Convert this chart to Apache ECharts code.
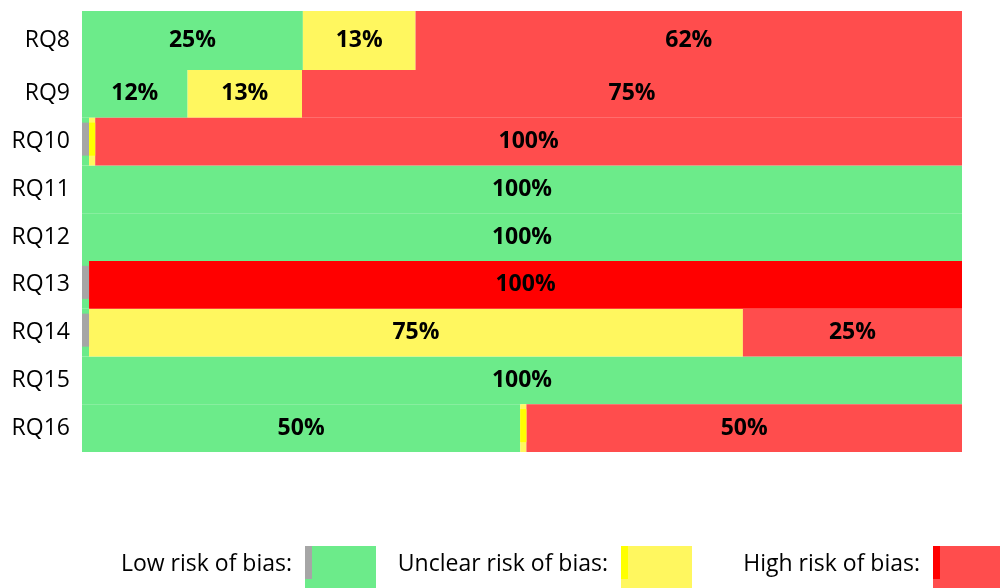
<!DOCTYPE html>
<html><head><meta charset="utf-8">
<script src="https://cdn.jsdelivr.net/npm/echarts@6/dist/echarts.min.js"></script>
<style>html,body{margin:0;padding:0;background:#fff}#c{width:1000px;height:588px}</style>
</head><body><div id="c"></div>
<script>
var categories = ['RQ8','RQ9','RQ10','RQ11','RQ12','RQ13','RQ14','RQ15','RQ16'];
// base stacked segments (percent of axis)
var lowVals       = [25.1, 12.0, 0.8, 100, 100, 0.8, 0.8, 100, 49.8];
var unclearVals   = [12.8, 13.0, 0.7, 0, 0, 0, 74.3, 0, 0.7];
var highSolidVals = [0, 0, 0, 0, 0, 99.2, 0, 0, 0];
var highVals      = [62.1, 75.0, 98.5, 0, 0, 0, 24.9, 0, 49.5];
// label texts
var lowLabels       = ['25%','12%','','100%','100%','','','100%','50%'];
var unclearLabels   = ['13%','13%','','','','','75%','',''];
var highSolidLabels = ['','','','','','100%','','',''];
var highLabels      = ['62%','75%','100%','','','','25%','','50%'];
// marker overlay segments
var markerSpacer = [0, 0, 0, 0, 0, 0, 0, 0, 49.8];
var markerGrey   = [0, 0, 0.8, 0, 0, 0.8, 0.8, 0, 0];
var markerYellow = [0, 0, 0.7, 0, 0, 0, 0, 0, 0.7];
// legend
var legendNames = ['Low risk of bias:', 'Unclear risk of bias:', 'High risk of bias:'];

var C = {low:'#6CEB8A', unclear:'#FFF75F', high:'#FF4D4D', highSolid:'#FF0000', grey:'#A6A6A6', yellowSolid:'#FFFF00'};
var FONT = '"Open Sans", sans-serif';

// grid 0: first row (taller), grid 1: remaining rows, grid 2: marker overlay for remaining rows
function part(arr, g) { return g === 0 ? arr.slice(0, 1) : arr.slice(1); }

var series = [];
function seg(name, vals, labels, color) {
  [0, 1].forEach(function (g) {
    var v = part(vals, g), l = part(labels, g);
    series.push({
      name: name, type: 'bar', stack: 'a' + g, xAxisIndex: g, yAxisIndex: g,
      barWidth: '100%', barCategoryGap: 0,
      itemStyle: {color: color},
      data: v.map(function (x, i) {
        return {value: x, label: {show: !!l[i], formatter: l[i]}};
      }),
      label: {position: 'inside', color: '#000', fontWeight: 'bold', fontSize: 23, fontFamily: FONT},
      silent: true, animation: false
    });
  });
}
function mark(name, vals, color) {
  series.push({
    name: name, type: 'bar', stack: 'm', xAxisIndex: 2, yAxisIndex: 2,
    barWidth: 33, itemStyle: {color: color},
    data: part(vals, 1), silent: true, animation: false
  });
}
seg('Low', lowVals, lowLabels, C.low);
seg('Unclear', unclearVals, unclearLabels, C.unclear);
seg('HighSolid', highSolidVals, highSolidLabels, C.highSolid);
seg('High', highVals, highLabels, C.high);
mark('spacer', markerSpacer, 'rgba(0,0,0,0)');
mark('grey', markerGrey, C.grey);
mark('yellowSolid', markerYellow, C.yellowSolid);

var legendX = [292, 608, 920];
var swX = [305, 621, 933];
var swFill = [C.low, C.unclear, C.high];
var swMark = [C.grey, C.yellowSolid, C.highSolid];
var graphics = [];
legendNames.forEach(function (n, i) {
  graphics.push({type: 'text', x: legendX[i], y: 564,
    style: {text: n, fill: '#000', font: '23px ' + FONT, textAlign: 'right', textVerticalAlign: 'middle'}});
  graphics.push({type: 'rect', shape: {x: swX[i], y: 546, width: (i === 2 ? 67 : 71), height: 42}, style: {fill: swFill[i]}});
  graphics.push({type: 'rect', shape: {x: swX[i], y: 546, width: 7, height: 33}, style: {fill: swMark[i]}});
});

var catAxis = {type: 'category', inverse: true,
  axisLine: {show: false}, axisTick: {show: false}, splitLine: {show: false},
  axisLabel: {color: '#000', fontSize: 23, fontFamily: FONT, margin: 12}};

var chart = echarts.init(document.getElementById('c'), null, {renderer: 'canvas'});
chart.setOption({
  animation: false,
  grid: [
    {left: 82, right: 38, top: 11, height: 59},
    {left: 82, right: 38, top: 70, height: 382},
    {left: 82, right: 38, top: 67.5, height: 382}
  ],
  xAxis: [0, 1, 2].map(function (g) {
    return {type: 'value', min: 0, max: 100, gridIndex: g, show: false};
  }),
  yAxis: [
    Object.assign({}, catAxis, {gridIndex: 0, data: part(categories, 0)}),
    Object.assign({}, catAxis, {gridIndex: 1, data: part(categories, 1)}),
    {type: 'category', inverse: true, gridIndex: 2, data: part(categories, 1), show: false}
  ],
  series: series,
  graphic: graphics
});
</script></body></html>
